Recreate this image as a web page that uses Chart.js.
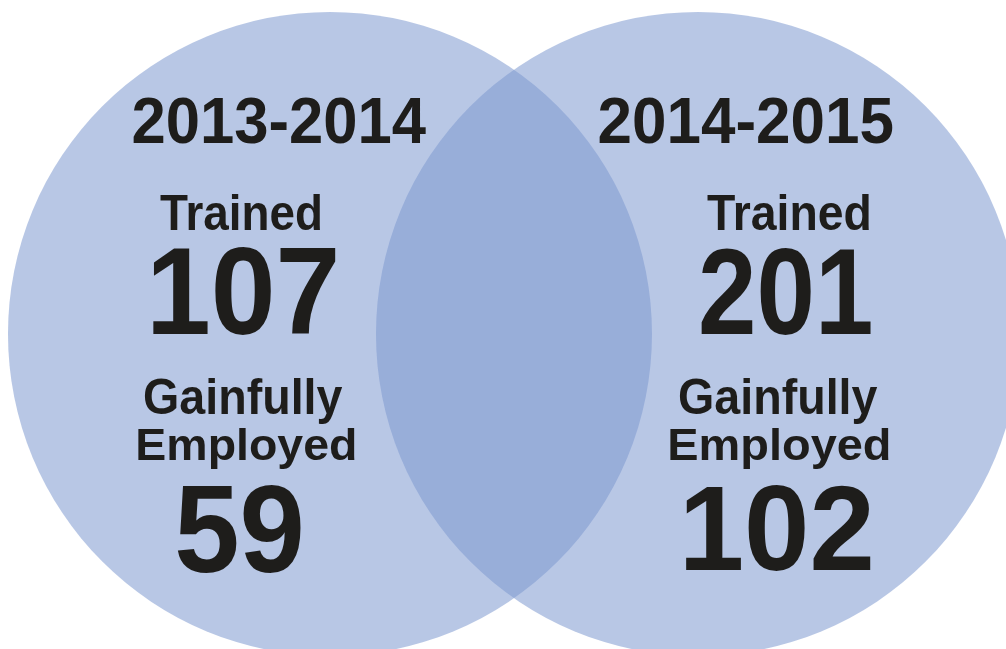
<!DOCTYPE html>
<html>
<head>
<meta charset="utf-8">
<script src="https://cdn.jsdelivr.net/npm/chart.js@4.4.1/dist/chart.umd.min.js"></script>
<style>
    html, body { margin: 0; padding: 0; background: #ffffff; }
    #wrap { width: 1006px; height: 649px; position: relative; }
</style>
</head>
<body>
<div id="wrap"><canvas id="venn"></canvas></div>
<script>
// data
var periods = ['2013-2014', '2014-2015'];
var trained = [107, 201];
var employed = [59, 102];
var trainedLabel = 'Trained';
var employedLabel = ['Gainfully', 'Employed'];

var circleFill = 'rgba(126, 153, 208, 0.55)';
var textColor = '#1e1d1b';
var fontFamily = '"Liberation Sans", Arial, Helvetica, sans-serif';

// text boxes, relative to circle centre: [ink centre dx, baseline dy, ink height, ink width]
var textBoxes = [
    [[-50, -191, 46, 293], [-90, -104, 36, 160], [-86, 0, 87, 183],
     [-86, 80, 36, 198], [-84, 126, 32, 217], [-91, 238, 87, 124]],
    [[48, -191, 46, 293], [90, -104, 36, 162], [88, 0, 86, 169],
     [81, 80, 36, 198], [81, 126, 32, 219], [80, 236, 85, 185]]
];

// scale the text so its ink fills the box seen in the original
function fitText(ctx, text, x, y, h, w) {
    ctx.font = 'bold 100px ' + fontFamily;
    var m = ctx.measureText(text);
    var size = 100 * h / m.actualBoundingBoxAscent;
    ctx.font = 'bold ' + size.toFixed(2) + 'px ' + fontFamily;
    m = ctx.measureText(text);
    var sx = w / (m.actualBoundingBoxLeft + m.actualBoundingBoxRight);
    ctx.save();
    ctx.translate(x, y);
    ctx.scale(sx, 1);
    ctx.fillText(text, -(m.actualBoundingBoxRight - m.actualBoundingBoxLeft) / 2, 0);
    ctx.restore();
}

var vennText = {
    id: 'vennText',
    afterDatasetsDraw: function(chart) {
        var ctx = chart.ctx;
        var meta = chart.getDatasetMeta(0);
        ctx.save();
        ctx.fillStyle = textColor;
        ctx.textAlign = 'left';
        ctx.textBaseline = 'alphabetic';
        meta.data.forEach(function(pt, i) {
            var texts = [periods[i], trainedLabel, String(trained[i]),
                         employedLabel[0], employedLabel[1], String(employed[i])];
            texts.forEach(function(t, j) {
                var b = textBoxes[i][j];
                fitText(ctx, t, pt.x + b[0], pt.y + b[1], b[2], b[3]);
            });
        });
        ctx.restore();
    }
};

var ctx = document.getElementById('venn').getContext('2d');
var vennChart = new Chart(ctx, {
    type: 'bubble',
    data: {
        datasets: [{
            label: 'Periods',
            data: periods.map(function(p, i) {
                return { x: i, y: 0, r: 322 };
            }),
            backgroundColor: circleFill,
            borderWidth: 0,
            hoverRadius: 0,
            clip: false
        }]
    },
    options: {
        responsive: true,
        maintainAspectRatio: false,
        animation: false,
        events: [],
        layout: { padding: 0, autoPadding: false },
        plugins: {
            legend: { display: false },
            tooltip: { enabled: false }
        },
        scales: {
            x: { type: 'linear', display: false, min: -0.8967, max: 1.837 },
            y: { type: 'linear', display: false, min: -0.971, max: 1.029 }
        }
    },
    plugins: [vennText]
});
</script>
</body>
</html>
